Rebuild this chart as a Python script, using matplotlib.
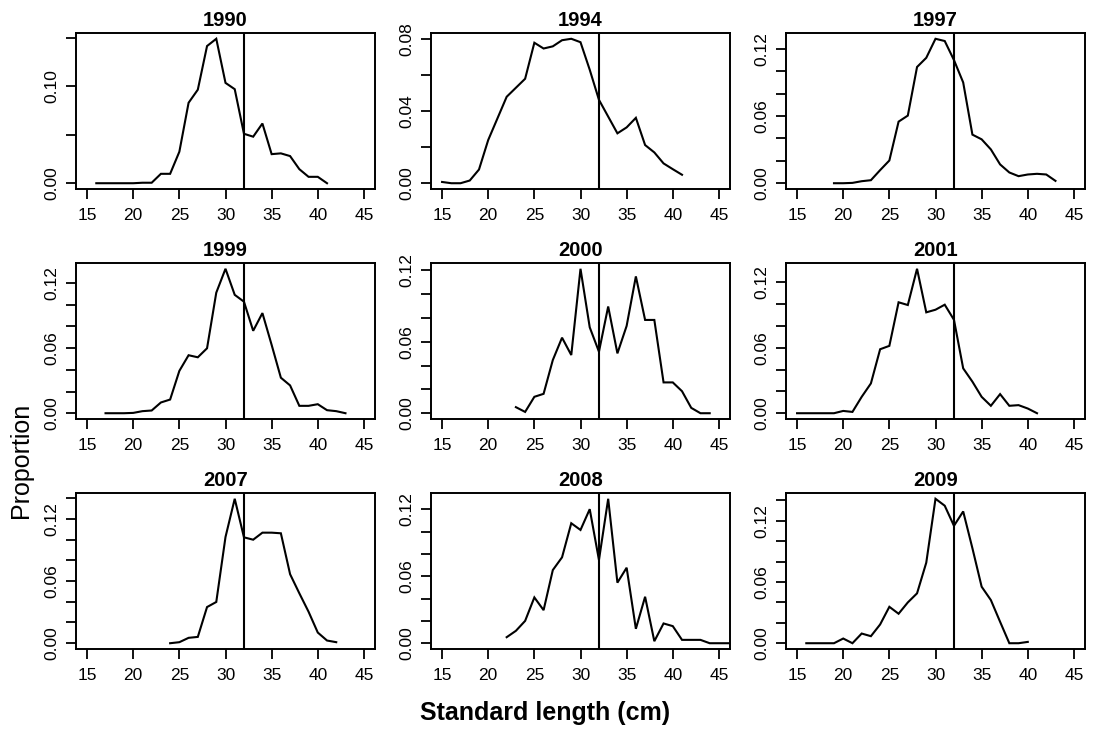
import numpy as np
import matplotlib
matplotlib.use("Agg")
import matplotlib.pyplot as plt

plt.rcParams['font.family'] = ['Liberation Sans', 'DejaVu Sans']

years = ['1990', '1994', '1997', '1999', '2000', '2001', '2007', '2008', '2009']

len_1990 = list(range(16, 42))
p_1990 = [0, 0, 0, 0, 0, 0.0005, 0.0005, 0.0097, 0.0097, 0.0325, 0.083, 0.0965, 0.1415,
          0.149, 0.1035, 0.097, 0.051, 0.048, 0.0616, 0.030, 0.0308, 0.028, 0.0145,
          0.0066, 0.0066, 0]

len_1994 = list(range(15, 42))
p_1994 = [0.0007, 0, 0, 0.0015, 0.0076, 0.024, 0.036, 0.048, 0.053, 0.058, 0.078, 0.0748,
          0.076, 0.0794, 0.0802, 0.0783, 0.063, 0.0463, 0.037, 0.0277, 0.031, 0.0363,
          0.0212, 0.0171, 0.011, 0.0078, 0.0047]

len_1997 = list(range(19, 44))
p_1997 = [0, 0, 0.0003, 0.0018, 0.0027, 0.0117, 0.0203, 0.055, 0.0604, 0.1038, 0.112,
          0.129, 0.127, 0.110, 0.090, 0.0434, 0.0392, 0.0302, 0.0168, 0.0096, 0.0063,
          0.0078, 0.0084, 0.0078, 0.0021]

len_1999 = list(range(17, 44))
p_1999 = [0, 0, 0, 0.0003, 0.0019, 0.0025, 0.0099, 0.0126, 0.039, 0.0534, 0.0515, 0.0598,
          0.111, 0.133, 0.109, 0.1027, 0.0759, 0.0922, 0.0629, 0.0327, 0.0256, 0.0068,
          0.0068, 0.0083, 0.0028, 0.0019, 0]

len_2000 = list(range(23, 45))
p_2000 = [0.0051, 0.0011, 0.0138, 0.0163, 0.0447, 0.0635, 0.0489, 0.1214, 0.0722, 0.0517,
          0.0897, 0.0503, 0.0734, 0.115, 0.0784, 0.0784, 0.0259, 0.0259, 0.0185, 0.0045,
          0, 0]

len_2001 = list(range(15, 42))
p_2001 = [0, 0, 0, 0, 0, 0.0021, 0.0012, 0.015, 0.0273, 0.0586, 0.0617, 0.1016, 0.0991,
          0.1323, 0.0924, 0.0948, 0.0994, 0.0856, 0.0411, 0.0289, 0.015, 0.0068, 0.0175,
          0.0068, 0.0074, 0.0043, 0]

len_2007 = list(range(24, 43))
p_2007 = [0, 0.001, 0.0052, 0.0061, 0.0349, 0.0398, 0.1025, 0.1394, 0.1022, 0.0999,
          0.1067, 0.1067, 0.1061, 0.0666, 0.0482, 0.0304, 0.0103, 0.0026, 0.001]

len_2008 = list(range(22, 48))
p_2008 = [0.0054, 0.0111, 0.020, 0.041, 0.0296, 0.0655, 0.0769, 0.1074, 0.1014, 0.12,
          0.0745, 0.1293, 0.0542, 0.0676, 0.0129, 0.0416, 0.0018, 0.0177, 0.0153, 0.003,
          0.003, 0.003, 0, 0, 0, 0]

len_2009 = list(range(16, 41))
p_2009 = [0, 0, 0, 0, 0.0046, 0, 0.0095, 0.0069, 0.0184, 0.0357, 0.0289, 0.04, 0.0489,
          0.079, 0.1416, 0.1348, 0.1151, 0.1292, 0.0931, 0.0554, 0.0423, 0.021, 0, 0,
          0.0013]

lengths = [len_1990, len_1994, len_1997, len_1999, len_2000, len_2001, len_2007, len_2008, len_2009]
props = [p_1990, p_1994, p_1997, p_1999, p_2000, p_2001, p_2007, p_2008, p_2009]

cutoff = 32
x_ticks = [15, 20, 25, 30, 35, 40, 45]
# (tick step, label every n-th tick)
ytick_style = [(0.05, 2), (0.02, 2), (0.02, 3), (0.02, 3), (0.02, 3),
               (0.02, 3), (0.02, 3), (0.02, 3), (0.02, 3)]

W, H = 1093, 731
fig = plt.figure(figsize=(W / 100, H / 100), dpi=100)

lefts = [76, 431, 786]
tops = [33, 263, 493]
aw, ah = 299, 156

for i, (yr, xs, ps) in enumerate(zip(years, lengths, props)):
    r, c = divmod(i, 3)
    ax = fig.add_axes([lefts[c] / W, 1 - (tops[r] + ah) / H, aw / W, ah / H])
    ax.plot(xs, ps, color='black', lw=1.5, solid_joinstyle='miter')
    ax.axvline(cutoff, color='black', lw=1.5)
    ax.set_xlim(15 - 1.2, 45 + 1.2)
    ymax = max(ps)
    ax.set_ylim(-0.04 * ymax, 1.04 * ymax)
    ax.set_xticks(x_ticks)
    ax.set_xticklabels([str(t) for t in x_ticks])
    step, every = ytick_style[i]
    yt = np.arange(0, ymax * 1.04 + 1e-9, step)
    ax.set_yticks(yt)
    ax.set_yticklabels([f"{t:.2f}" if k % every == 0 else "" for k, t in enumerate(yt)],
                       rotation=90, va='center')
    ax.tick_params(axis='both', direction='out', length=7, width=1.3, labelsize=12.5,
                   colors='black')
    ax.tick_params(axis='x', pad=7)
    ax.tick_params(axis='y', pad=5)
    for s in ax.spines.values():
        s.set_linewidth(1.4)
    ax.set_title(yr, fontsize=14.5, fontweight='bold', pad=5)

fig.text(545 / W, 1 - 713 / H, 'Standard length (cm)', ha='center', va='center',
         fontsize=18, fontweight='bold')
fig.text(21 / W, 1 - 460 / H, 'Proportion', ha='center', va='center', rotation=90,
         fontsize=18)

fig.savefig('out.png', dpi=100)
